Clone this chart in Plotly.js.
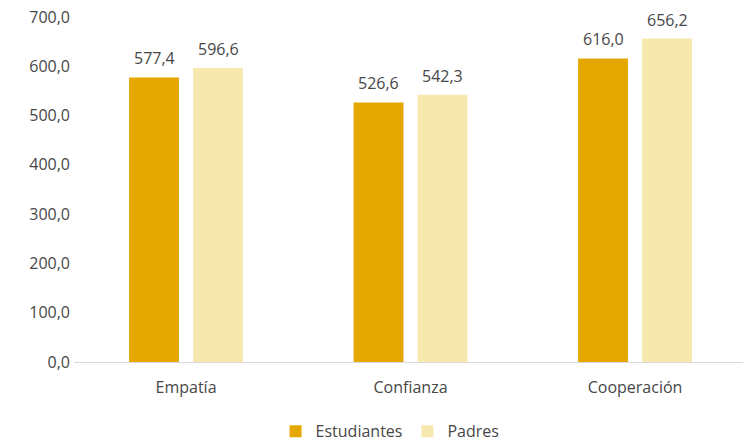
<!DOCTYPE html>
<html>
<head>
<meta charset="utf-8">
<script src="https://cdn.plot.ly/plotly-3.0.1.min.js"></script>
<style>html,body{margin:0;padding:0;background:#fff;}#chart{width:743px;height:441px;}</style>
</head>
<body>
<div id="chart"></div>
<script>
const categories = ["Empatía", "Confianza", "Cooperación"];
const estudiantes = [577.4, 526.6, 616.0];
const padres = [596.6, 542.3, 656.2];
const seriesNames = ["Estudiantes", "Padres"];
const yTicks = [0, 100, 200, 300, 400, 500, 600, 700];

const fontFam = "Open Sans, Noto Sans, sans-serif";
const txtColor = "#474747";

const traces = [
  {type: "bar", name: seriesNames[0], x: categories, y: estudiantes,
   marker: {color: "#E5A800"}, hoverinfo: "skip"},
  {type: "bar", name: seriesNames[1], x: categories, y: padres,
   marker: {color: "#F7E8AF"}, hoverinfo: "skip"}
];

const fmt = v => v.toFixed(1).replace(".", ",");
const annotations = [];
[estudiantes, padres].forEach((arr, s) => {
  arr.forEach((v, i) => {
    annotations.push({
      x: categories[i], y: v, xref: "x", yref: "y",
      text: fmt(v), showarrow: false,
      xshift: s === 0 ? -32 : 32, yshift: 19,
      font: {family: fontFam, size: 16, color: txtColor}
    });
  });
});

const layout = {
  width: 743, height: 441,
  margin: {l: 74, r: 0, t: 17, b: 79, autoexpand: false},
  separators: ",.",
  paper_bgcolor: "#fff", plot_bgcolor: "#fff",
  font: {family: fontFam, size: 16, color: txtColor},
  bargap: 0.43, bargroupgap: 0.22,
  barmode: "group",
  xaxis: {range: [-0.499, 2.481], showgrid: false, zeroline: false, showline: false, ticks: "", automargin: false,
          tickfont: {size: 16, color: txtColor}, ticklabelstandoff: 14},
  yaxis: {range: [0, 700], tickvals: yTicks, tickformat: ".1f", automargin: false,
          showgrid: false, zeroline: true, zerolinecolor: "#d9d9d9", zerolinewidth: 1,
          showline: false, ticks: "", ticklabelstandoff: 3,
          tickfont: {size: 16, color: txtColor}},
  legend: {orientation: "h", xref: "container", x: 0.525, xanchor: "center", yref: "container", y: 0.022, yanchor: "middle",
           itemwidth: 30, font: {size: 16, color: txtColor}, traceorder: "normal"},
  annotations: annotations,
  showlegend: true
};

Plotly.newPlot("chart", traces, layout, {displayModeBar: false, staticPlot: true});
</script>
</body>
</html>
